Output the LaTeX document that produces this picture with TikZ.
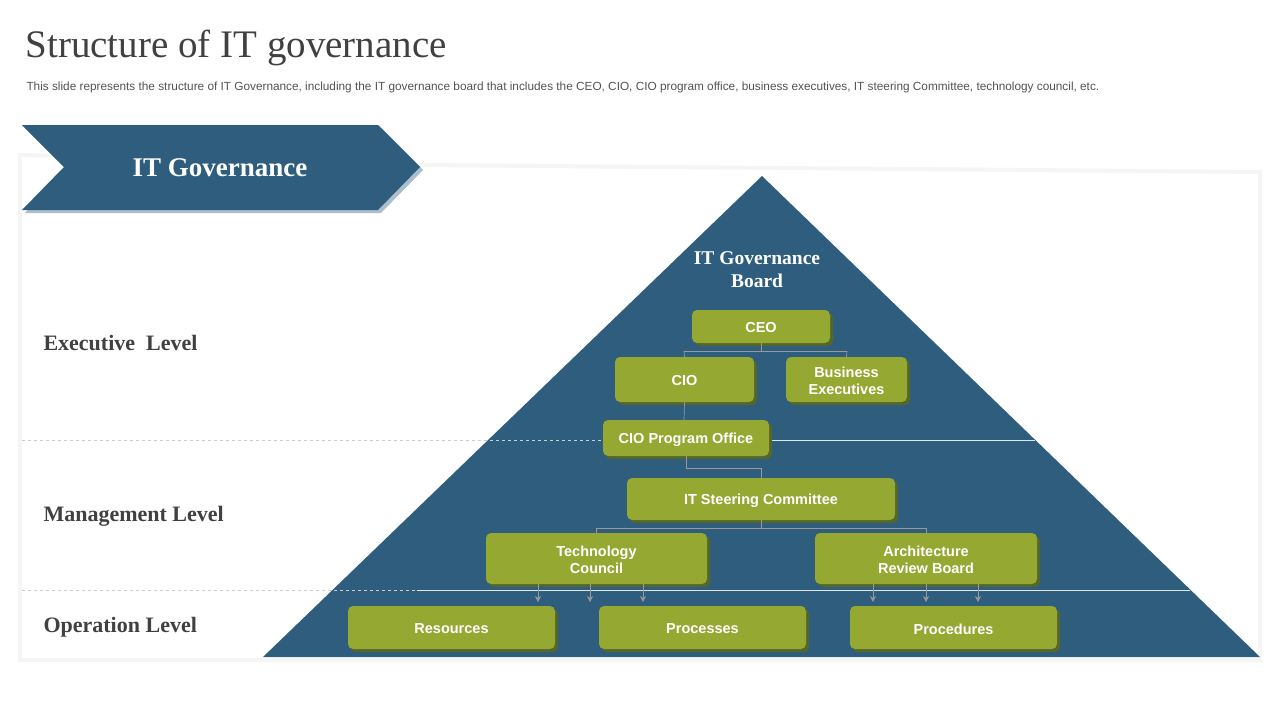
\documentclass[tikz,border=0pt]{standalone}
\usepackage{fontspec}
\usetikzlibrary{arrows.meta}
\setmainfont{Liberation Serif}
\newfontfamily\arial{Liberation Sans}
\definecolor{navy}{HTML}{2F5D7E}
\definecolor{grn}{HTML}{94A832}
\definecolor{grnd}{HTML}{55662A}
\definecolor{txt}{HTML}{404040}
\begin{document}
\begin{tikzpicture}[x=1pt,y=-1pt,
 gbox/.style={fill=grn,rounded corners=5pt,text=white,font=\arial\bfseries\fontsize{14.5}{17.5}\selectfont,align=center,inner sep=0pt},
 conn/.style={draw=gray!80,line width=0.7pt},
 arr/.style={draw=gray!80,line width=0.8pt,-{Stealth[length=6pt,width=6pt]}},
 lvl/.style={anchor=west,text=txt,font=\bfseries\fontsize{22}{26}\selectfont}]
\useasboundingbox (0,0) rectangle (1280,720);
\fill[white] (0,0) rectangle (1280,720);
% panel
\fill[black!4] (18,153) -- (420,163) -- (1262,170) -- (1262,662) -- (18,662) -- cycle;
\fill[white] (22,157) -- (420,167) -- (1258,174) -- (1258,658) -- (22,658) -- cycle;
% title
\node[anchor=west,text=txt,font=\fontsize{39}{44}\selectfont] (title) at (22,48) {Structure of IT governance};
\node[anchor=west,text=txt!90,font=\arial\fontsize{11.8}{14}\selectfont] (sub) at (23,87) {This slide represents the structure of IT Governance, including the IT governance board that includes the CEO, CIO, CIO program office, business executives, IT steering Committee, technology council, etc.};
% banner
\fill[navy!40] (25,128) -- (381,128) -- (423,170) -- (381,213) -- (25,213) -- (67,170) -- cycle;
\fill[navy] (22,125) -- (378,125) -- (420,167) -- (378,210) -- (22,210) -- (64,167) -- cycle;
\node[text=white,font=\bfseries\fontsize{27}{32}\selectfont] (ban) at (220,168) {IT Governance};
% pyramid
\fill[navy] (762,176) -- (1260,657) -- (263,657) -- cycle;
% level lines
\draw[gray!40,dashed] (22,440) -- (603,440);
\draw[white!85!navy] (769,440) -- (1035,440);
\draw[gray!40,dashed] (22,590) -- (417,590);
\draw[white!85!navy] (417,590) -- (1190,590);
\node[lvl] (l1) at (40,343) {Executive\ \ Level};
\node[lvl] (l2) at (40,516) {Management Level};
\node[lvl] (l3) at (40,627) {Operation Level};
\node[text=white,align=center,font=\bfseries\fontsize{19.5}{23}\selectfont] (board) at (757,270) {IT Governance\\Board};
% boxes with shadows
\foreach \n/\xa/\ya/\xb/\yb/\t in {
 ceo/692/310/830/343/CEO,
 cio/615/357/754/402/CIO,
 bex/786/357/907/402/{Business\\Executives},
 cpo/603/420/769/456/CIO Program Office,
 its/627/478/895/520/IT Steering Committee,
 tc/486/533/707/584/{Technology\\Council},
 arb/815/533/1037/584/{Architecture\\Review Board},
 res/348/606/555/649/Resources,
 pro/599/606/806/649/Processes,
 prc/850/606/1057/649/Procedures}{
 \fill[grnd,rounded corners=5pt] (\xa+3,\ya+3) rectangle (\xb+3,\yb+3);
 \node[gbox,minimum width={\xb-\xa},minimum height={\yb-\ya}] (\n) at ({(\xa+\xb)/2},{(\ya+\yb)/2}) {};
 \node[text=white,font=\arial\bfseries\fontsize{14.5}{17.5}\selectfont,align=center,inner sep=0pt] (\n t) at ({(\xa+\xb)/2},{(\ya+\yb)/2+1.5}) {\t};
}
% connectors
\draw[conn] (ceo.south) -- (761,351);
\draw[conn] (684,351) -- (847,351);
\draw[conn] (684,351) -- (cio.north);
\draw[conn] (847,351) -- (bex.north);
\draw[conn] (cio.south) -- (684,420);
\draw[conn] (cpo.south) -- (686,468) -- (761,468) -- (its.north);
\draw[conn] (its.south) -- (761,528);
\draw[conn] (596,528) -- (926,528);
\draw[conn] (596,528) -- (596,533);
\draw[conn] (926,528) -- (926,533);
\foreach \x in {538,590,643}{\draw[arr] (\x,584) -- (\x,602);}
\foreach \x in {873,926,978}{\draw[arr] (\x,584) -- (\x,602);}
\end{tikzpicture}
\end{document}
